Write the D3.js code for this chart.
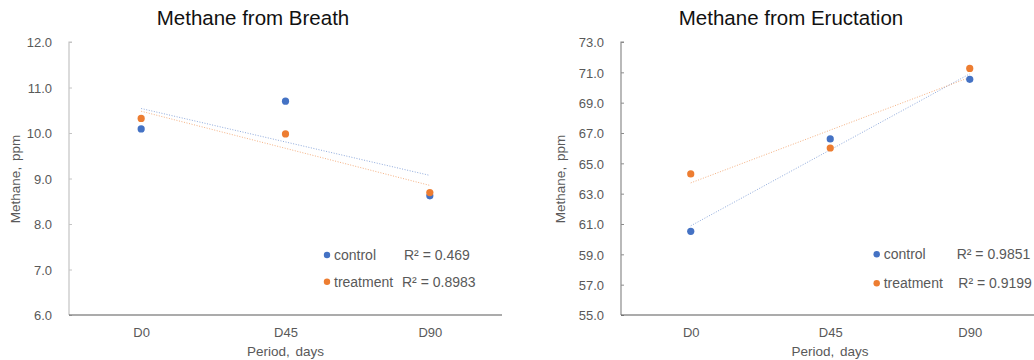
<!DOCTYPE html>
<html>
<head>
<meta charset="utf-8">
<script src="https://cdn.jsdelivr.net/npm/d3@7"></script>
<style>
  html, body { margin: 0; padding: 0; background: #fff; }
  svg { display: block; font-family: "Liberation Sans", Arial, sans-serif; }
</style>
</head>
<body>
<svg id="chart" width="1034" height="360"></svg>
<script>
// Sampling periods
const periods = ["D0", "D45", "D90"];
const seriesNames = ["control", "treatment"];
const seriesColors = ["#4472C4", "#ED7D31"];

// Methane from breath (ppm)
const breathControl = [10.09, 10.70, 8.62];
const breathTreatment = [10.32, 9.98, 8.69];
const breathTicks = [6, 7, 8, 9, 10, 11, 12];
const breathR2 = ["R² = 0.469", "R² = 0.8983"];

// Methane from eructation (ppm)
const eructControl = [60.52, 66.61, 70.54];
const eructTreatment = [64.30, 66.01, 71.26];
const eructTicks = [55, 57, 59, 61, 63, 65, 67, 69, 71, 73];
const eructR2 = ["R² = 0.9851", "R² = 0.9199"];

const svg = d3.select("#chart");

// least-squares line over category index 0..n-1
function linearFit(vals) {
  const xs = vals.map((_, i) => i);
  const mx = d3.mean(xs), my = d3.mean(vals);
  const sxy = d3.sum(xs, (x, i) => (x - mx) * (vals[i] - my));
  const sxx = d3.sum(xs, x => (x - mx) * (x - mx));
  const b = sxy / sxx;
  const a = my - b * mx;
  return xs.map(x => a + b * x);
}

function drawPanel(cfg) {
  const g = svg.append("g");
  const x = d3.scalePoint().domain(periods).range([cfg.x0, cfg.x1]).padding(0.5);
  const y = d3.scaleLinear().domain(d3.extent(cfg.ticks)).range([cfg.yBot, cfg.yTop]);

  // title
  g.append("text")
    .attr("x", cfg.titleX).attr("y", 25)
    .attr("text-anchor", "middle")
    .attr("font-size", "20.5px")
    .attr("fill", "#111")
    .text(cfg.title);

  // y axis with inward ticks
  const yAxis = g.append("g")
    .attr("transform", `translate(${cfg.x0},0)`)
    .call(d3.axisRight(y).tickValues(cfg.ticks).tickSize(3).tickFormat(d3.format(".1f")));
  yAxis.select(".domain").attr("stroke", cfg.yAxisColor).attr("stroke-width", 1.2)
    .attr("d", `M3,${cfg.yTop}H0V${cfg.yBot}`);
  yAxis.selectAll(".tick line").attr("stroke", cfg.yAxisColor);
  yAxis.selectAll(".tick text")
    .attr("x", -17).attr("text-anchor", "end").attr("dy", "0.36em")
    .attr("fill", "#595959").attr("font-size", "13px");

  // x axis
  const xAxis = g.append("g")
    .attr("transform", `translate(0,${cfg.yBot})`)
    .call(d3.axisBottom(x).tickSize(0).tickPadding(0));
  xAxis.select(".domain").attr("stroke", "#595959").attr("stroke-width", 1.2)
    .attr("d", `M${cfg.x0},0H${cfg.x1}`);
  xAxis.selectAll(".tick text")
    .attr("y", 21.5).attr("dy", 0)
    .attr("fill", "#595959").attr("font-size", "13px");

  // axis titles
  g.append("text")
    .attr("x", cfg.xTitleX).attr("y", 356)
    .attr("text-anchor", "middle")
    .attr("font-size", "13.5px").attr("fill", "#595959")
    .attr("word-spacing", "2px")
    .text("Period, days");
  g.append("text")
    .attr("transform", `translate(${cfg.yTitleX},179) rotate(-90)`)
    .attr("text-anchor", "middle")
    .attr("font-size", "13.5px").attr("fill", "#595959")
    .attr("word-spacing", "2px")
    .text("Methane, ppm");

  // trend lines
  cfg.series.forEach((vals, si) => {
    const fit = linearFit(vals);
    g.append("path")
      .datum(fit)
      .attr("d", d3.line().x((d, i) => x(periods[i])).y(d => y(d)))
      .attr("fill", "none")
      .attr("stroke", seriesColors[si])
      .attr("stroke-width", 1)
      .attr("stroke-dasharray", "1,1.6")
      .attr("opacity", 0.6);
  });

  // points
  cfg.series.forEach((vals, si) => {
    g.append("g").selectAll("circle")
      .data(vals)
      .join("circle")
      .attr("cx", (d, i) => x(periods[i]))
      .attr("cy", d => y(d))
      .attr("r", 3.6)
      .attr("fill", seriesColors[si]);
  });

  // legend with R² values
  seriesNames.forEach((name, si) => {
    const row = cfg.legend[si];
    g.append("circle")
      .attr("cx", row.mx).attr("cy", row.y).attr("r", 3.2)
      .attr("fill", seriesColors[si]);
    g.append("text")
      .attr("x", row.mx + 7).attr("y", row.y + 5)
      .attr("font-size", "14px").attr("fill", "#595959")
      .text(name);
    g.append("text")
      .attr("x", row.rx).attr("y", row.y + 5)
      .attr("font-size", "14px").attr("fill", "#595959")
      .text(cfg.r2[si]);
  });
}

drawPanel({
  title: "Methane from Breath",
  titleX: 253,
  x0: 69, x1: 502, yTop: 42, yBot: 315,
  ticks: breathTicks,
  yAxisColor: "#c4c4c4",
  xTitleX: 285.5,
  yTitleX: 19.5,
  series: [breathControl, breathTreatment],
  r2: breathR2,
  legend: [{ mx: 327, y: 255, rx: 404 }, { mx: 327, y: 281.7, rx: 402 }]
});

drawPanel({
  title: "Methane from Eructation",
  titleX: 791,
  x0: 621, x1: 1039.5, yTop: 42, yBot: 315,
  ticks: eructTicks,
  yAxisColor: "#8c8c8c",
  xTitleX: 830,
  yTitleX: 565,
  series: [eructControl, eructTreatment],
  r2: eructR2,
  legend: [{ mx: 876.7, y: 254.3, rx: 956.7 }, { mx: 876.7, y: 283.3, rx: 958.3 }]
});
</script>
</body>
</html>
